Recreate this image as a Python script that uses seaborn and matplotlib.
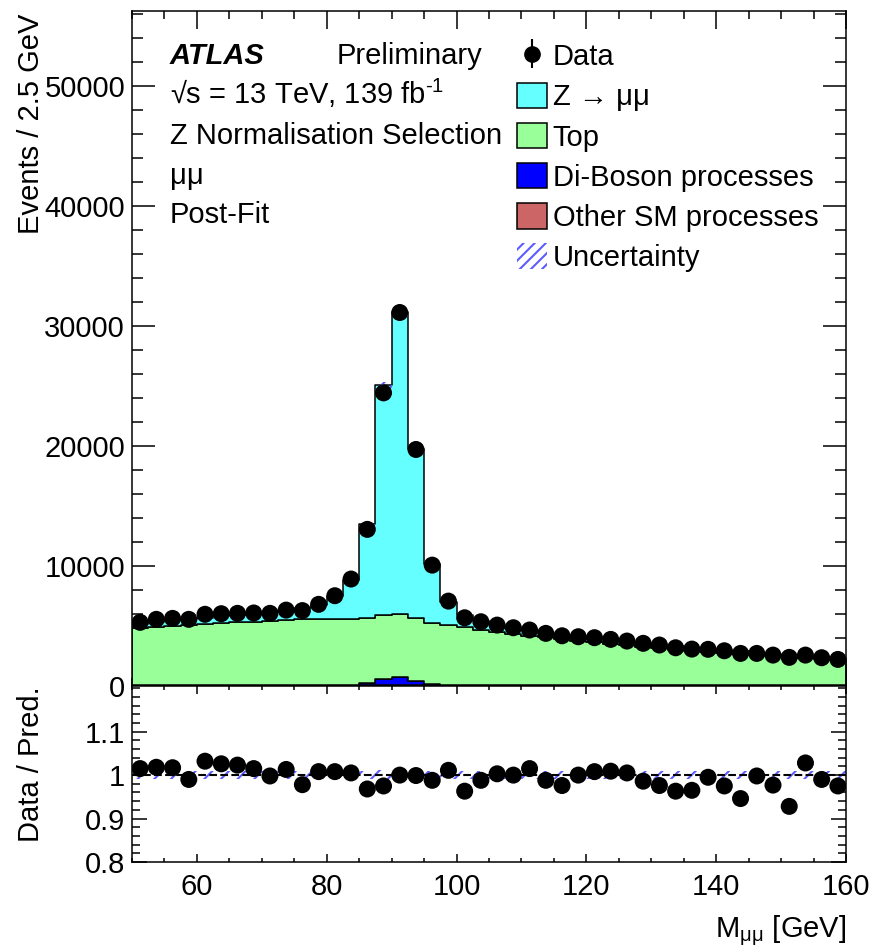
import numpy as np
import pandas as pd
import matplotlib
matplotlib.use('Agg')
import matplotlib.pyplot as plt
import matplotlib.patches as mpatches
from matplotlib.ticker import MultipleLocator, FixedLocator
import seaborn as sns

# binning: 2.5 GeV bins from 50 to 160 GeV
bin_edges = np.arange(50, 162.5, 2.5)
bin_centers = bin_edges[:-1] + 1.25

# events per bin
data_events = [5310, 5560, 5640, 5560, 5980, 6030, 6060, 6090, 6060, 6330,
               6290, 6810, 7530, 8920, 13060, 24440, 31140, 19720, 10080, 7080,
               5690, 5360, 5080, 4860, 4670, 4390, 4190, 4110, 4030, 3890,
               3750, 3560, 3420, 3190, 3080, 3060, 2940, 2720, 2720, 2580,
               2390, 2580, 2360, 2220]

z_mumu = [400, 440, 480, 520, 560, 600, 650, 700, 760, 830,
          920, 1170, 1910, 3290, 7850, 19150, 25140, 14100, 4930, 1920,
          1020, 700, 560, 490, 440, 400, 370, 350, 330, 315,
          300, 290, 280, 270, 260, 250, 240, 232, 225, 218,
          210, 204, 198, 192]

top = [4750, 4840, 4930, 5010, 5090, 5170, 5240, 5310, 5380, 5460,
       5540, 5520, 5500, 5470, 5390, 5320, 5230, 5210, 5100, 5000,
       4830, 4645, 4485, 4315, 4145, 3995, 3845, 3705, 3575, 3445,
       3325, 3205, 3095, 2985, 2885, 2785, 2695, 2595, 2505, 2415,
       2335, 2245, 2175, 2095]

diboson = [25, 25, 25, 25, 25, 25, 25, 25, 25, 25,
           25, 25, 25, 80, 200, 540, 700, 380, 140, 50,
           25, 25, 25, 25, 25, 25, 25, 25, 25, 25,
           25, 25, 25, 25, 25, 25, 25, 25, 25, 25,
           25, 25, 25, 25]

other_sm = [35, 35, 35, 35, 35, 35, 35, 35, 35, 35,
            35, 35, 35, 35, 45, 60, 70, 50, 40, 30,
            30, 30, 30, 30, 30, 30, 30, 30, 30, 30,
            30, 30, 30, 30, 30, 30, 30, 30, 30, 30,
            30, 30, 30, 30]

# data / prediction
ratio = [1.015, 1.018, 1.017, 0.990, 1.032, 1.026, 1.023, 1.015, 0.998, 1.013,
         0.978, 1.008, 1.008, 1.005, 0.968, 0.975, 1.000, 0.999, 0.988, 1.011,
         0.963, 0.988, 1.003, 1.000, 1.015, 0.988, 0.976, 1.000, 1.008, 1.009,
         1.005, 0.986, 0.976, 0.963, 0.965, 0.995, 0.975, 0.946, 0.998, 0.977,
         0.928, 1.028, 0.990, 0.975]

# relative uncertainty of the prediction
unc_rel = [0.010, 0.010, 0.010, 0.010, 0.010, 0.010, 0.010, 0.010, 0.010, 0.010,
           0.010, 0.010, 0.010, 0.010, 0.010, 0.011, 0.010, 0.010, 0.010, 0.010,
           0.010, 0.010, 0.010, 0.010, 0.010, 0.010, 0.010, 0.010, 0.010, 0.010,
           0.010, 0.010, 0.010, 0.010, 0.010, 0.010, 0.010, 0.010, 0.010, 0.010,
           0.010, 0.010, 0.010, 0.010]

processes = ['Z', 'Top', 'Di-Boson', 'Other']
colors = ['#66ffff', '#99ff99', '#0000ff', '#cc6666']
hatch_col = '#5c5cff'

sns.set_style('ticks')
plt.rcParams['font.family'] = ['Liberation Sans', 'DejaVu Sans']
plt.rcParams['mathtext.fontset'] = 'custom'
plt.rcParams['mathtext.rm'] = 'Liberation Sans'
plt.rcParams['mathtext.it'] = 'Liberation Sans:italic'
plt.rcParams['mathtext.default'] = 'regular'
plt.rcParams['hatch.linewidth'] = 1.5
plt.rcParams['axes.linewidth'] = 1.1
for key in ['text.color', 'axes.labelcolor', 'xtick.color', 'ytick.color', 'axes.edgecolor']:
    plt.rcParams[key] = 'black'
FS = 21

frames = []
for name, vals in zip(processes, [z_mumu, top, diboson, other_sm]):
    frames.append(pd.DataFrame({'mass': bin_centers, 'events': vals, 'process': name}))
df = pd.concat(frames, ignore_index=True)

fig = plt.figure(figsize=(8.73, 9.46), dpi=100)
ax = fig.add_axes([0.1512, 0.2748, 0.8179, 0.7139])
rax = fig.add_axes([0.1512, 0.0888, 0.8179, 0.186])

sns.histplot(data=df, x='mass', weights='events', hue='process', hue_order=processes,
             palette=colors, multiple='stack', binwidth=2.5, binrange=(50, 160),
             element='step', alpha=1, edgecolor='black', linewidth=1.1, legend=False, ax=ax)

total = np.array(z_mumu) + np.array(top) + np.array(diboson) + np.array(other_sm)
unc = total * np.array(unc_rel)
ax.fill_between(bin_edges, np.append(total - unc, (total - unc)[-1]),
                np.append(total + unc, (total + unc)[-1]), step='post',
                facecolor='none', edgecolor=hatch_col, hatch='///', linewidth=0)

sns.scatterplot(x=bin_centers, y=data_events, color='black', s=150, edgecolor='none',
                zorder=5, ax=ax)

ax.set_xlim(50, 160)
ax.set_ylim(0, 56300)
ax.set_xlabel('')
ax.set_ylabel('Events / 2.5 GeV', fontsize=FS, loc='top')
ax.yaxis.set_label_coords(-0.122, 0.996)
ax.xaxis.set_major_locator(MultipleLocator(20))
ax.xaxis.set_minor_locator(MultipleLocator(5))
ax.yaxis.set_major_locator(MultipleLocator(10000))
ax.yaxis.set_minor_locator(MultipleLocator(2000))
ax.tick_params(which='both', direction='in', top=True, right=True, labelbottom=False,
               labelsize=FS, width=1.1, pad=5)
ax.tick_params(axis='x', which='major', length=13)
ax.tick_params(axis='x', which='minor', length=6)
ax.tick_params(axis='y', which='major', length=16.5)
ax.tick_params(axis='y', which='minor', length=8)

# labels
ax.text(0.053, 0.921, 'ATLAS', transform=ax.transAxes, fontsize=FS,
        fontweight='bold', fontstyle='italic', va='baseline')
ax.text(0.287, 0.921, 'Preliminary', transform=ax.transAxes, fontsize=FS, va='baseline')
ax.text(0.053, 0.862, '√s = 13 TeV, 139 fb$^{\\text{-}1}$', transform=ax.transAxes,
        fontsize=FS, va='baseline')
ax.text(0.053, 0.803, 'Z Normalisation Selection', transform=ax.transAxes, fontsize=FS,
        va='baseline')
ax.text(0.053, 0.744, 'μμ', transform=ax.transAxes, fontsize=FS, va='baseline')
ax.text(0.053, 0.686, 'Post-Fit', transform=ax.transAxes, fontsize=FS, va='baseline')

h_data = ax.errorbar([np.nan], [np.nan], yerr=[1.0], fmt='o', color='black',
                     markersize=11, elinewidth=1.5, capsize=0)
handles = [h_data,
           mpatches.Patch(facecolor=colors[0], edgecolor='black', linewidth=1.1),
           mpatches.Patch(facecolor=colors[1], edgecolor='black', linewidth=1.1),
           mpatches.Patch(facecolor=colors[2], edgecolor='black', linewidth=1.1),
           mpatches.Patch(facecolor=colors[3], edgecolor='black', linewidth=1.1),
           mpatches.Patch(facecolor='none', edgecolor=hatch_col, hatch='///', linewidth=0)]
labels = ['Data', 'Z → μμ', 'Top', 'Di-Boson processes', 'Other SM processes', 'Uncertainty']
ax.legend(handles, labels, loc='upper left', bbox_to_anchor=(0.539, 0.953), frameon=False,
          fontsize=FS, handlelength=1.03, handleheight=0.97, handletextpad=0.2,
          labelspacing=0.39, borderpad=0, borderaxespad=0)

# ratio panel
rax.fill_between(bin_edges, np.append(1 - np.array(unc_rel), 1 - unc_rel[-1]),
                 np.append(1 + np.array(unc_rel), 1 + unc_rel[-1]), step='post',
                 facecolor='none', edgecolor=hatch_col, hatch='//', linewidth=0)
rax.axhline(1.0, color='black', linestyle='--', linewidth=1.5)
sns.scatterplot(x=bin_centers, y=ratio, color='black', s=150, edgecolor='none',
                zorder=5, ax=rax)
rax.set_xlim(50, 160)
rax.set_ylim(0.8, 1.205)
rax.xaxis.set_major_locator(MultipleLocator(20))
rax.xaxis.set_minor_locator(MultipleLocator(5))
rax.yaxis.set_major_locator(FixedLocator([0.8, 0.9, 1.0, 1.1]))
rax.yaxis.set_minor_locator(MultipleLocator(0.02))
rax.set_yticklabels(['0.8', '0.9', '1', '1.1'])
rax.tick_params(which='both', direction='in', top=True, right=True, labelsize=FS, width=1.1)
rax.tick_params(axis='x', which='major', length=6, pad=8)
rax.tick_params(axis='x', which='minor', length=3)
rax.tick_params(axis='y', which='major', length=11, pad=5)
rax.tick_params(axis='y', which='minor', length=5.5)
rax.set_xticks([60, 80, 100, 120, 140, 160])
rax.set_xticklabels(['60', '80', '100', '120', '140', '160'])
rax.set_xlabel('M$_{μμ}$ [GeV]', fontsize=FS, loc='right')
rax.xaxis.set_label_coords(1.0, -0.29)
rax.set_ylabel('Data / Pred.', fontsize=FS)
rax.yaxis.set_label_coords(-0.122, 0.554)

fig.savefig('out.png', dpi=100)
